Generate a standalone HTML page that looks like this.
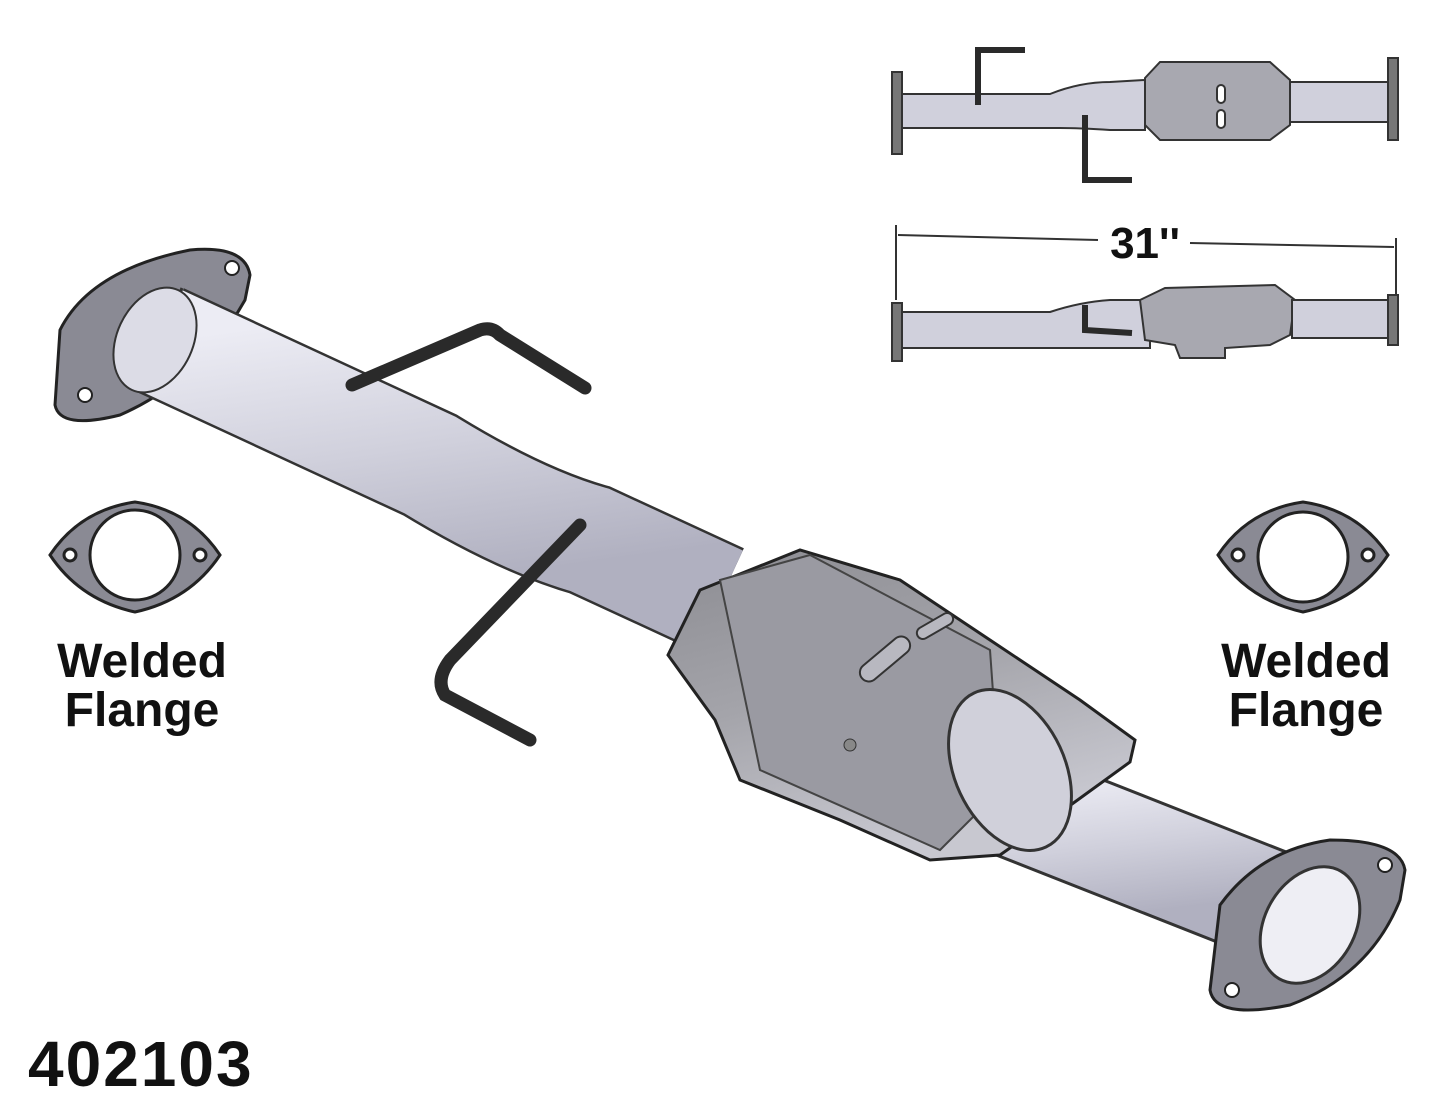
<!DOCTYPE html>
<html><head><meta charset="utf-8"><style>
html,body{margin:0;padding:0;background:#fff;}
svg{display:block;}
text{font-family:"Liberation Sans",sans-serif;font-weight:bold;fill:#111;}
</style></head><body>
<svg width="1445" height="1117" viewBox="0 0 1445 1117" xmlns="http://www.w3.org/2000/svg">
<defs>
<linearGradient id="pg" x1="0" y1="0" x2="0.3" y2="1">
<stop offset="0" stop-color="#ececf4"/><stop offset="0.5" stop-color="#d0d0dc"/><stop offset="1" stop-color="#b0b0c0"/>
</linearGradient>
<linearGradient id="cg" x1="0" y1="0" x2="0.4" y2="1">
<stop offset="0" stop-color="#8c8c92"/><stop offset="0.5" stop-color="#a4a4aa"/><stop offset="1" stop-color="#c8c8d0"/>
</linearGradient>
</defs>

<path d="M60,330 Q90,270 190,250 Q245,245 250,275 L245,300 Q200,380 120,415 Q60,430 55,405 Z" fill="#8a8a94" stroke="#222" stroke-width="3"/>
<circle cx="232" cy="268" r="7" fill="#fff" stroke="#222" stroke-width="2"/>
<circle cx="85" cy="395" r="7" fill="#fff" stroke="#222" stroke-width="2"/>

<path d="M160,340 L430,465 Q520,520 590,540 L720,600" fill="none" stroke="#333" stroke-width="114"/>
<path d="M160,340 L430,465 Q520,520 590,540 L720,600" fill="none" stroke="url(#pg)" stroke-width="109"/>
<line x1="182" y1="288" x2="138" y2="392" stroke="#333" stroke-width="3"/>
<ellipse cx="155" cy="340" rx="38" ry="55" transform="rotate(25 155 340)" fill="#dcdce6" stroke="#333" stroke-width="2"/>

<path d="M980,790 L1310,920" fill="none" stroke="#333" stroke-width="112"/>
<path d="M980,790 L1310,920" fill="none" stroke="url(#pg)" stroke-width="106"/>

<path d="M1220,905 Q1260,850 1330,840 Q1400,840 1405,870 L1400,900 Q1370,975 1290,1005 Q1215,1020 1210,990 Z" fill="#8a8a94" stroke="#222" stroke-width="3"/>
<circle cx="1385" cy="865" r="7" fill="#fff" stroke="#222" stroke-width="2"/>
<circle cx="1232" cy="990" r="7" fill="#fff" stroke="#222" stroke-width="2"/>
<ellipse cx="1310" cy="925" rx="45" ry="62" transform="rotate(30 1310 925)" fill="#eeeef4" stroke="#333" stroke-width="3"/>

<path d="M668,655 L700,590 L800,550 L900,580 L990,640 L1080,700 L1135,740 L1130,762 L1050,820 L1000,855 L930,860 L840,820 L740,780 L715,720 Z" fill="url(#cg)" stroke="#222" stroke-width="3"/>
<path d="M720,580 L810,555 L990,650 L1000,790 L940,850 L760,770 Z" fill="#9a9aa2" stroke="#444" stroke-width="2"/>
<ellipse cx="1010" cy="770" rx="55" ry="85" transform="rotate(-25 1010 770)" fill="#d0d0da" stroke="#333" stroke-width="3"/>
<rect x="855" y="650" width="60" height="18" rx="9" transform="rotate(-40 885 659)" fill="#b8b8c0" stroke="#333" stroke-width="2"/>
<rect x="915" y="620" width="40" height="12" rx="6" transform="rotate(-30 935 626)" fill="#b8b8c0" stroke="#333" stroke-width="2"/>
<circle cx="850" cy="745" r="6" fill="#888" stroke="#333"/>

<path d="M352,385 L480,330 Q492,326 500,335 L585,388" fill="none" stroke="#2a2a2a" stroke-width="13" stroke-linecap="round"/>
<path d="M580,525 L450,660 Q435,680 445,695 L530,740" fill="none" stroke="#2a2a2a" stroke-width="13" stroke-linecap="round"/>

<g stroke="#222" stroke-width="3">
<path d="M50,555 Q80,510 135,502 Q190,510 220,555 Q190,600 135,612 Q80,600 50,555 Z" fill="#8a8a94"/>
<circle cx="135" cy="555" r="45" fill="#fff"/>
<circle cx="70" cy="555" r="6" fill="#fff"/><circle cx="200" cy="555" r="6" fill="#fff"/>
<path d="M1218,555 Q1248,510 1303,502 Q1358,510 1388,555 Q1358,600 1303,612 Q1248,600 1218,555 Z" fill="#8a8a94"/>
<circle cx="1303" cy="557" r="45" fill="#fff"/>
<circle cx="1238" cy="555" r="6" fill="#fff"/><circle cx="1368" cy="555" r="6" fill="#fff"/>
</g>
<text x="142" y="677" font-size="48" text-anchor="middle">Welded</text>
<text x="142" y="726" font-size="48" text-anchor="middle">Flange</text>
<text x="1306" y="677" font-size="48" text-anchor="middle">Welded</text>
<text x="1306" y="726" font-size="48" text-anchor="middle">Flange</text>
<text x="28" y="1086" font-size="64" letter-spacing="2">402103</text>

<g stroke="#333" stroke-width="2">
<rect x="892" y="72" width="10" height="82" fill="#777"/>
<rect x="1388" y="58" width="10" height="82" fill="#777"/>
<path d="M902,94 L1050,94 Q1080,82 1110,82 L1145,80 L1145,130 L1110,130 Q1080,128 1060,128 L902,128 Z" fill="#d0d0dc"/>
<path d="M1145,78 L1160,62 L1270,62 L1290,80 L1290,125 L1270,140 L1160,140 L1145,125 Z" fill="#a8a8b0"/>
<rect x="1290" y="82" width="98" height="40" fill="#d0d0dc"/>
<rect x="1217" y="85" width="8" height="18" rx="4" fill="#fff"/>
<rect x="1217" y="110" width="8" height="18" rx="4" fill="#fff"/>
</g>
<path d="M978,105 L978,50 L1025,50 M1085,115 L1085,180 L1132,180" fill="none" stroke="#2a2a2a" stroke-width="6"/>

<line x1="896" y1="225" x2="896" y2="300" stroke="#333" stroke-width="2"/>
<line x1="1396" y1="238" x2="1396" y2="300" stroke="#333" stroke-width="2"/>
<line x1="898" y1="235" x2="1098" y2="240" stroke="#333" stroke-width="2"/>
<line x1="1190" y1="243" x2="1394" y2="247" stroke="#333" stroke-width="2"/>
<text x="1145" y="258" font-size="44" text-anchor="middle">31''</text>

<g stroke="#333" stroke-width="2">
<rect x="892" y="303" width="10" height="58" fill="#777"/>
<rect x="1388" y="295" width="10" height="50" fill="#777"/>
<path d="M902,312 L1050,312 Q1080,302 1110,300 L1150,300 L1150,348 L902,348 Z" fill="#d0d0dc"/>
<path d="M1140,300 L1165,288 L1275,285 L1295,300 L1290,335 L1270,345 L1225,348 L1225,358 L1180,358 L1175,345 L1145,340 Z" fill="#a8a8b0"/>
<rect x="1292" y="300" width="96" height="38" fill="#d0d0dc"/>
</g>
<path d="M1085,305 L1085,330 L1132,333" fill="none" stroke="#2a2a2a" stroke-width="6"/>
</svg>
</body></html>
